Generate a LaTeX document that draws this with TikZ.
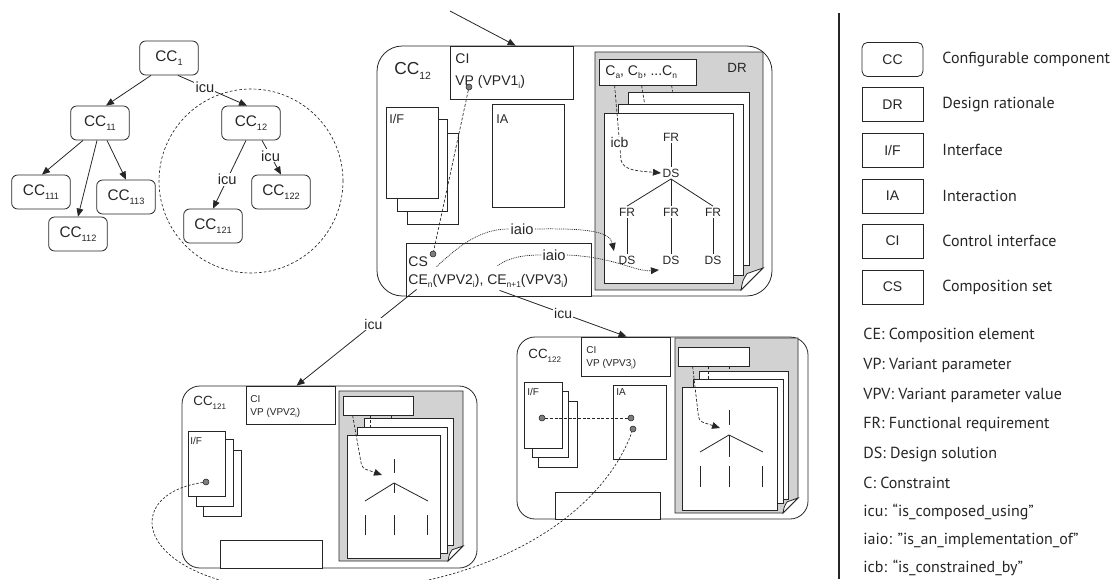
\documentclass[tikz,border=0pt]{standalone}
\usepackage{fontspec}
\setmainfont{Liberation Sans}
\newfontfamily\legfont{PT Sans}
\usetikzlibrary{arrows.meta,calc,fit}
\definecolor{ln}{RGB}{38,38,38}
\definecolor{panel}{RGB}{210,210,210}
\definecolor{dotc}{RGB}{125,125,125}
\newcommand\sbs[1]{\raisebox{-0.5ex}{\scalebox{0.6}{#1}}}
\newcommand\fs[1]{\fontsize{#1}{#1}\selectfont}
\newcommand\drpanel[5]{%
  \draw[panelst] (#1,#2) -- (#3,#2) -- (#3,#4-#5) -- (#3-#5,#4) -- (#1,#4) -- cycle;
  \draw[fill=white] (#3-#5,#4) .. controls (#3-0.92*#5,#4-0.45*#5) .. (#3-0.72*#5,#4-0.75*#5) -- (#3,#4-#5) -- cycle;}
\begin{document}
\begin{tikzpicture}[x=0.75pt,y=-0.75pt, line width=0.6pt, color=ln,
  ccbox/.style={draw=ln, fill=white, rounded corners=4.5pt, minimum width=44pt, minimum height=25.5pt, inner sep=0pt, font=\fs{11.5}},
  arr/.style={draw=ln, -{Triangle[length=6pt,width=5pt]}},
  lbl/.style={fill=white, inner sep=0.8pt, font=\fs{11}},
  box/.style={draw=ln, fill=white, inner sep=0pt},
  tl/.style={anchor=north west, inner sep=0pt, align=left},
  dsh/.style={draw=ln, dash pattern=on 2.2pt off 1.3pt, line width=0.5pt},
  dsharr/.style={dsh, -{Triangle[length=6pt,width=5pt]}},
  dott/.style={draw=ln, dash pattern=on 0.7pt off 0.7pt, line width=0.55pt},
  dotarr/.style={dott, -{Triangle[length=6pt,width=5pt]}},
  dotpt/.style={circle, fill=dotc, draw=ln, line width=0.4pt, inner sep=0pt, minimum size=4.5pt},
  panelst/.style={draw=ln, fill=panel},
  frds/.style={inner sep=1pt, font=\fs{9}},
  leg/.style={anchor=west, inner sep=0pt, font=\legfont\fs{12}},
  legbox/.style={draw=ln, fill=white, minimum width=45.75pt, minimum height=25.5pt, inner sep=0pt, font=\fs{10.5}},
]
\useasboundingbox (0,0) rectangle (1120,579);

% ---------------- tree ----------------
\draw[dsh, dash pattern=on 2pt off 1.6pt] (251,181) circle [radius=69pt];
\node[ccbox] (cc1) at (169,58) {CC\sbs{1}};
\node[ccbox] (cc11) at (100,123) {CC\sbs{11}};
\node[ccbox] (cc12) at (251,123) {CC\sbs{12}};
\node[ccbox] (cc111) at (41,192) {CC\sbs{111}};
\node[ccbox] (cc113) at (126,197) {CC\sbs{113}};
\node[ccbox] (cc112) at (78,234) {CC\sbs{112}};
\node[ccbox] (cc121) at (213,226) {CC\sbs{121}};
\node[ccbox] (cc122) at (281,192) {CC\sbs{122}};
\draw[arr] ($(cc1.south)+(-18,0)$) -- ($(cc11.north)+(6,0)$);
\draw[arr] ($(cc1.south)+(9,0)$) -- node[lbl,pos=0.39] {icu} ($(cc12.north)+(-4,0)$);
\draw[arr] ($(cc11.south)+(-17,0)$) -- ($(cc111.north)+(1,0)$);
\draw[arr] ($(cc11.south)+(-3,0)$) -- (cc112.north);
\draw[arr] ($(cc11.south)+(7,0)$) -- (cc113.north);
\draw[arr] ($(cc12.south)+(-5,0)$) -- node[lbl,pos=0.57] {icu} (cc121.north);
\draw[arr] ($(cc12.south)+(11,0)$) -- node[lbl,pos=0.45] {icu} (cc122.north);

% ---------------- big CC12 ----------------
\node[fit={(377,46) (772,296)}, draw=ln, rounded corners=19pt, inner sep=0pt] (big) {};
\node[anchor=west, inner sep=0pt, font=\fs{13}] (bigl) at (394,71) {CC\sbs{12}};
\drpanel{595}{52}{763}{290}{22}
\node[anchor=west, inner sep=0pt, font=\fs{10}] (drl) at (727,68) {DR};
\node[box, fit={(628,92) (749,265)}] (pg3) {};
\node[box, fit={(618,104) (743,275)}] (pg2) {};
\node[box, fit={(604,113) (733,283)}] (pg1) {};
\node[box, fit={(599,59) (696,85)}] (cbox) {};
\node[anchor=west, inner sep=0pt, font=\fs{10.5}] at (605,72) {C\sbs{a}, C\sbs{b}, ...C\sbs{n}};
\node[box, fit={(450,46) (573,99)}] (ci) {};
\node[tl, font=\fontsize{10.5}{16.5}\selectfont] at (455,53) {CI\\VP (VPV1\sbs{i})};
\node[box, fit={(407,133) (458,224)}] (if3) {};
\node[box, fit={(397,119) (447,211)}] (if2) {};
\node[box, fit={(386,107) (438,198)}] (if1) {};
\node[tl, font=\fs{9.5}] at (389,114) {I/F};
\node[box, fit={(492,104) (564,207)}] (ia) {};
\node[tl, font=\fs{9.5}] at (496,114) {IA};
\node[box, fit={(406,243) (591,296)}] (cs) {};
\node[tl, font=\fontsize{10.5}{13.5}\selectfont] at (408,256) {CS\\CE\sbs{n}(VPV2\sbs{i}), CE\sbs{n+1}(VPV3\sbs{i})};
% DR tree
\node[frds] (fr0) at (671,137) {FR};
\node[frds] (ds0) at (671,173) {DS};
\node[frds] (fr1) at (627,212) {FR};
\node[frds] (fr2) at (671,212) {FR};
\node[frds] (fr3) at (713,212) {FR};
\node[frds] (ds1) at (627,260) {DS};
\node[frds] (ds2) at (671,260) {DS};
\node[frds] (ds3) at (713,260) {DS};
\draw (fr0) -- (ds0);
\draw (ds0.south) -- (fr1.north);
\draw (ds0.south) -- (fr2.north);
\draw (ds0.south) -- (fr3.north);
\draw (fr1) -- (ds1);
\draw (fr2) -- (ds2);
\draw (fr3) -- (ds3);
% icb
\coordinate (icbk) at (621,160);
\draw[dsh] ($(cbox.south west)+(16,0)$) -- node[lbl,pos=0.77,font=\fs{10.5}] {icb} (icbk);
\draw[dsharr] (icbk) .. controls (623,171) and (640,171) .. (ds0.west);
\draw[dsh] ($(cbox.south west)+(43,0)$) -- ($(pg2.north west)+(27,0)$);
\draw[dsh] ($(cbox.south west)+(73,0)$) -- ($(pg3.north west)+(45,0)$);
% dots
\node[dotpt] (dci) at (469,87) {};
\node[dotpt] (dcs) at (433,254) {};
\draw[dsh] (dci) -- (dcs);
% iaio
\node[lbl] (ia1) at (522,229) {iaio};
\node[lbl] (ia2) at (554,255) {iaio};
\draw[dott] ($(cs.north west)+(31,24)$) .. controls (460,245) and (480,229) .. (ia1.west);
\draw[dotarr] (ia1.east) .. controls (590,228) and (610,232) .. ($(ds1.north west)+(-3,-3)$);
\draw[dott] ($(cs.north west)+(92,23)$) .. controls (508,258) and (522,255) .. (ia2.west);
\draw[dotarr] (ia2.east) .. controls (615,257) and (635,272) .. ($(ds2.south west)+(-2,4)$);
% incoming arrow
\coordinate (topin) at (450,11);
\draw[arr] (topin) -- ($(ci.north west)+(66,0)$);

% ---------------- CC121 ----------------
\node[fit={(182,386) (477,568)}, draw=ln, rounded corners=13.5pt, inner sep=0pt] (b121) {};
\node[anchor=west, inner sep=0pt, font=\fs{10}] at (193,403) {CC\sbs{121}};
\node[box, fit={(246,386) (335,424)}] (ci121) {};
\node[tl, font=\fontsize{7.5}{9.5}\selectfont] at (250,395) {CI\\VP (VPV2\sbs{i})};
\node[box, fit={(203,450) (241,516)}] (if121c) {};
\node[box, fit={(196,439) (233,506)}] (if121b) {};
\node[box, fit={(188,431) (225,496)}] (if121a) {};
\node[tl, font=\fs{7.5}] at (190,437) {I/F};
\node[box, fit={(220,540) (322,568)}] (cs121) {};
\drpanel{339}{391}{463}{561}{15}
\node[box, fit={(364,418) (453,545)}] (p121c) {};
\node[box, fit={(357,427) (447,553)}] (p121b) {};
\node[box, fit={(347,435) (440,558)}] (p121a) {};
\node[box, fit={(343,396) (413,415)}] (cb121) {};
\draw (394,459) -- (394,473);
\draw (365,501) -- (394,483) -- (428,501);
\draw (394,483) -- (394,493);
\draw (365,515) -- (365,535);
\draw (394,515) -- (394,535);
\draw (427,515) -- (427,535);
\coordinate (t121) at (382,475);
\draw[dsharr, rounded corners=3pt] ($(cb121.south west)+(10,0)$) -- (362,468) -- (t121);
\draw[dsh] ($(cb121.south west)+(28,0)$) -- ($(p121b.north west)+(14,0)$);
\draw[dsh] ($(cb121.south west)+(49,0)$) -- ($(p121c.north west)+(28,0)$);
\node[dotpt] (d121) at (206,482) {};

% ---------------- CC122 ----------------
\node[fit={(517,337) (808,519)}, draw=ln, rounded corners=13.5pt, inner sep=0pt] (b122) {};
\node[anchor=west, inner sep=0pt, font=\fs{10}] at (528,356) {CC\sbs{122}};
\node[box, fit={(581,337) (670,376)}] (ci122) {};
\node[tl, font=\fontsize{7.5}{10}\selectfont] at (586,346) {CI\\VP (VPV3\sbs{i})};
\node[box, fit={(538,401) (577,467)}] (if122c) {};
\node[box, fit={(532,391) (568,457)}] (if122b) {};
\node[box, fit={(524,382) (562,448)}] (if122a) {};
\node[tl, font=\fs{7.5}] at (527,388) {I/F};
\node[box, fit={(613,385) (666,459)}] (ia122) {};
\node[tl, font=\fs{7.5}] at (616,388) {IA};
\node[box, fit={(555,492) (660,519)}] (cs122) {};
\drpanel{675}{338}{798}{513}{15}
\node[box, fit={(699,371) (788,499)}] (p122c) {};
\node[box, fit={(693,379) (783,503)}] (p122b) {};
\node[box, fit={(682,387) (777,510)}] (p122a) {};
\node[box, fit={(678,347) (749,366)}] (cb122) {};
\draw (729,410) -- (729,425);
\draw (700,452) -- (729,435) -- (763,452);
\draw (729,435) -- (729,457);
\draw (700,466) -- (700,487);
\draw (729,466) -- (729,487);
\draw (762,466) -- (762,487);
\coordinate (t122) at (720,428);
\draw[dsharr, rounded corners=3pt] ($(cb122.south west)+(15,0)$) -- (699,421) -- (t122);
\draw[dsh] ($(cb122.south west)+(31,0)$) -- ($(p122b.north west)+(16,0)$);
\draw[dsh] ($(cb122.south west)+(52,0)$) -- ($(p122c.north west)+(31,0)$);
\node[dotpt] (d122a) at (542,418) {};
\node[dotpt] (d122b) at (631,418) {};
\node[dotpt] (d122c) at (633,429) {};
\draw[dsh] (d122a) -- (d122b);

% long dashed curve, dipping below the lower edge
\draw[dsh, dash pattern=on 1.8pt off 1.3pt] (d121) .. controls (115,495) and (135,590) .. (310,592)
   .. controls (480,594) and (600,520) .. (d122c);

% icu from CS
\draw[arr] ($(cs.south west)+(11,-7)$) -- node[lbl,pos=0.36,font=\fs{10.5}] {icu} ($(ci121.north west)+(51,0)$);
\draw[arr] ($(cs.south west)+(94,-6)$) -- node[lbl,pos=0.5,font=\fs{10.5}] {icu} ($(ci122.north west)+(46,0)$);

% ---------------- legend ----------------
\draw[line width=0.9pt] (839,13) -- (839,579);
\node[legbox, rounded corners=4pt] (lcc) at (892.5,59.5) {CC};
\node[legbox] (ldr) at (892.5,104.5) {DR};
\node[legbox] (lif) at (892.5,150) {I/F};
\node[legbox] (lia) at (892.5,196) {IA};
\node[legbox] (lci) at (892.5,241) {CI};
\node[legbox] (lcs) at (892.5,287) {CS};
\node[leg] at (942,59.5) {Configurable component};
\node[leg] at (942,104.5) {Design rationale};
\node[leg] at (942,150) {Interface};
\node[leg] at (942,196) {Interaction};
\node[leg] at (942,241) {Control interface};
\node[leg] at (942,287) {Composition set};
\node[leg] at (863,335) {CE: Composition element};
\node[leg] at (863,365) {VP: Variant parameter};
\node[leg] at (863,395) {VPV: Variant parameter value};
\node[leg] at (863,424) {FR: Functional requirement};
\node[leg] at (863,454) {DS: Design solution};
\node[leg] at (863,483) {C: Constraint};
\node[leg] at (863,512) {icu: “is\_composed\_using”};
\node[leg] at (863,540) {iaio: ”is\_an\_implementation\_of”};
\node[leg] at (863,568) {icb: “is\_constrained\_by”};
\end{tikzpicture}
\end{document}
